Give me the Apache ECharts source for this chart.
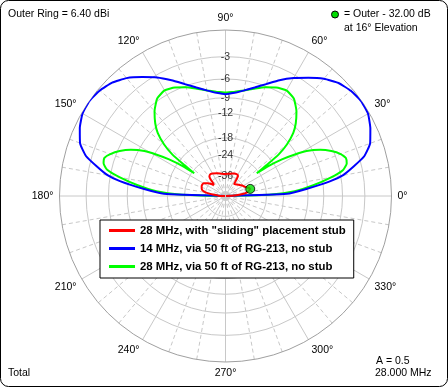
<!DOCTYPE html>
<html><head><meta charset="utf-8">
<script src="https://cdn.jsdelivr.net/npm/echarts@6/dist/echarts.min.js"></script>
<style>html,body{margin:0;padding:0;background:#fff}#c{width:448px;height:387px}</style>
</head><body><div id="c"></div>
<script>
// ---- data (dB relative to outer ring = 6.40 dBi), elevation angle in degrees ----
const outerRingDbi = 6.40;
const ringLevels = [-3, -6, -9, -12, -18, -24, -36];
const angleLabelStep = 30;

const seriesNames = ['28 MHz, with "sliding" placement stub', '14 MHz, via 50 ft of RG-213, no stub', '28 MHz, via 50 ft of RG-213, no stub'];
const seriesColors = ['#ff0000', '#0000ff', '#00ff00'];

const redAngles = [0, 3, 5, 7, 9, 12, 16, 20, 25, 30, 35, 40, 45, 50, 54, 56, 58, 62, 70, 80, 90, 100, 110, 120, 126, 130, 132, 134, 137, 140, 144, 150, 157, 164, 168, 171, 174, 177, 180];
const redDb = [-99, -50, -43, -38, -35, -33.5, -32.2, -33, -35, -36, -37.3, -38.7, -39.8, -41, -41.5, -38, -33.5, -32.8, -33.3, -34.2, -34.6, -34.2, -33, -31.8, -31.5, -32.5, -34.5, -38.5, -40, -37.5, -35, -32.2, -31.9, -32.7, -34.5, -38, -46, -55, -99];

const blueAngles = [0, 2, 5, 8, 10, 13, 16, 20, 25, 30, 35, 40, 45, 50, 55, 60, 65, 70, 75, 80, 85, 90, 95, 100, 105, 110, 115, 120, 125, 130, 135, 140, 145, 150, 155, 160, 164, 167, 170, 172, 175, 178, 180];
const blueDb = [-99, -17, -12.3, -7.8, -5.7, -4.0, -2.4, -1.3, -0.65, -0.15, -0.05, -0.25, -0.65, -1.4, -2.4, -3.4, -4.5, -5.7, -6.7, -7.5, -8.1, -8.4, -8.1, -7.5, -6.7, -5.7, -4.5, -3.3, -2.3, -1.3, -0.6, -0.2, 0, -0.1, -0.55, -1.2, -2.3, -3.9, -5.6, -7.6, -12, -17, -99];

const greenAngles = [0, 2, 4, 7, 10, 12.5, 15, 17.5, 20, 23, 26, 29, 31, 33, 35, 36, 37, 38, 40, 43, 46, 50, 55, 60, 65, 70, 75, 80, 85, 90, 95, 100, 105, 110, 115, 120, 125, 130, 134, 137, 140, 142, 143, 144, 145, 147, 149, 151, 154, 157, 160, 162.5, 165, 167.5, 170, 173, 176, 178, 180];
const greenDb = [-99, -22, -15, -10.8, -7.5, -5.5, -4.8, -4.7, -5.2, -6.3, -7.8, -10, -12.5, -15.5, -20, -25, -20, -15.5, -12.5, -10, -8.5, -7.0, -5.7, -5.3, -5.6, -6.2, -6.9, -7.5, -7.9, -8.1, -7.9, -7.5, -6.9, -6.2, -5.6, -5.3, -5.7, -7.0, -8.5, -10, -12.5, -15.5, -20, -25, -20, -15.5, -12.5, -10, -7.8, -6.3, -5.2, -4.6, -4.7, -5.4, -7.5, -10.8, -15, -22, -99];

const markerAngle = 16;
const markerDb = -32.0;

// ARRL log scale: radius factor 0.89 per 2 dB
function arrl(db) { return Math.pow(0.89, -db / 2); }
function toPolar(angles, dbs) { return angles.map((a, i) => [arrl(dbs[i]), a]); }

const chart = echarts.init(document.getElementById('c'), null, { renderer: 'canvas' });
const FONT = 'Liberation Sans';
const lineSeries = [
  { a: redAngles, d: redDb },
  { a: blueAngles, d: blueDb },
  { a: greenAngles, d: greenDb }
].map((s, i) => ({
  name: seriesNames[i], type: 'line', coordinateSystem: 'polar',
  data: toPolar(s.a, s.d), showSymbol: false, smooth: 0.15,
  lineStyle: { color: seriesColors[i], width: 2 }, itemStyle: { color: seriesColors[i] },
  z: 3 + (2 - i), animation: false
}));

const option = {
  backgroundColor: '#fff',
  animation: false,
  polar: { center: [225.5, 196], radius: 166 },
  angleAxis: {
    type: 'value', min: 0, max: 360, interval: angleLabelStep, startAngle: 0, clockwise: false,
    axisLine: { lineStyle: { color: '#a0a0a0', width: 1 } },
    axisTick: { show: false },
    axisLabel: { formatter: v => (v === 360 ? '' : v + '°'), margin: 6, color: '#000', fontSize: 10.5, fontFamily: FONT },
    splitLine: { show: true, lineStyle: { color: '#c8c8c8', width: 1 } },
    minorTick: { show: false, splitNumber: 3 },
    minorSplitLine: { show: true, lineStyle: { color: '#c8c8c8', width: 1, type: [4, 3] } }
  },
  radiusAxis: {
    type: 'value', min: 0, max: 1,
    axisLine: { show: false }, axisLabel: { show: false },
    axisTick: { show: false, customValues: ringLevels.map(arrl) },
    splitLine: { show: true, lineStyle: { color: '#c8c8c8', width: 1 } }
  },
  legend: {
    data: seriesNames, orient: 'vertical', left: 100, top: 220,
    padding: [5, 8, 6, 9], itemGap: 7, itemWidth: 26, itemHeight: 3, icon: 'rect',
    borderColor: '#000', borderWidth: 1, backgroundColor: '#fff',
    textStyle: { fontFamily: FONT, fontWeight: 'bold', fontSize: 11.4, color: '#000' },
    selectedMode: false
  },
  series: lineSeries.concat([
    {
      type: 'scatter', coordinateSystem: 'polar', symbolSize: 0, silent: true,
      data: ringLevels.map(l => [arrl(l), 90, l]),
      label: { show: true, position: 'inside', formatter: p => String(p.data[2]), color: '#000', fontSize: 10.5, fontFamily: FONT },
      z: 2
    },
    {
      type: 'scatter', coordinateSystem: 'polar', symbolSize: 9, silent: true,
      data: [[arrl(markerDb), markerAngle]],
      itemStyle: { color: '#00dd00', borderColor: '#000', borderWidth: 1 }, z: 10
    }
  ]),
  graphic: [
    { type: 'rect', shape: { x: 0.5, y: 0.5, width: 447, height: 386, r: 8 }, style: { fill: 'none', stroke: '#000', lineWidth: 1 }, z: 100 },
    { type: 'text', left: 8, top: 9, style: { text: 'Outer Ring = ' + outerRingDbi.toFixed(2) + ' dBi', font: '10.5px ' + FONT, fill: '#000' } },
    { type: 'circle', shape: { cx: 335, cy: 14.5, r: 3.5 }, style: { fill: '#00dd00', stroke: '#000', lineWidth: 1 } },
    { type: 'text', left: 344, top: 9, style: { text: '= Outer - ' + Math.abs(markerDb).toFixed(2) + ' dB', font: '10.5px ' + FONT, fill: '#000' } },
    { type: 'text', left: 344, top: 23, style: { text: 'at ' + markerAngle + '° Elevation', font: '10.5px ' + FONT, fill: '#000' } },
    { type: 'text', left: 8, top: 368, style: { text: 'Total', font: '10.5px ' + FONT, fill: '#000' } },
    { type: 'text', left: 376, top: 356, style: { text: 'A = 0.5', font: '10.5px ' + FONT, fill: '#000' } },
    { type: 'text', left: 375, top: 368, style: { text: '28.000 MHz', font: '10.5px ' + FONT, fill: '#000' } }
  ]
};
chart.setOption(option);
</script>
</body></html>
